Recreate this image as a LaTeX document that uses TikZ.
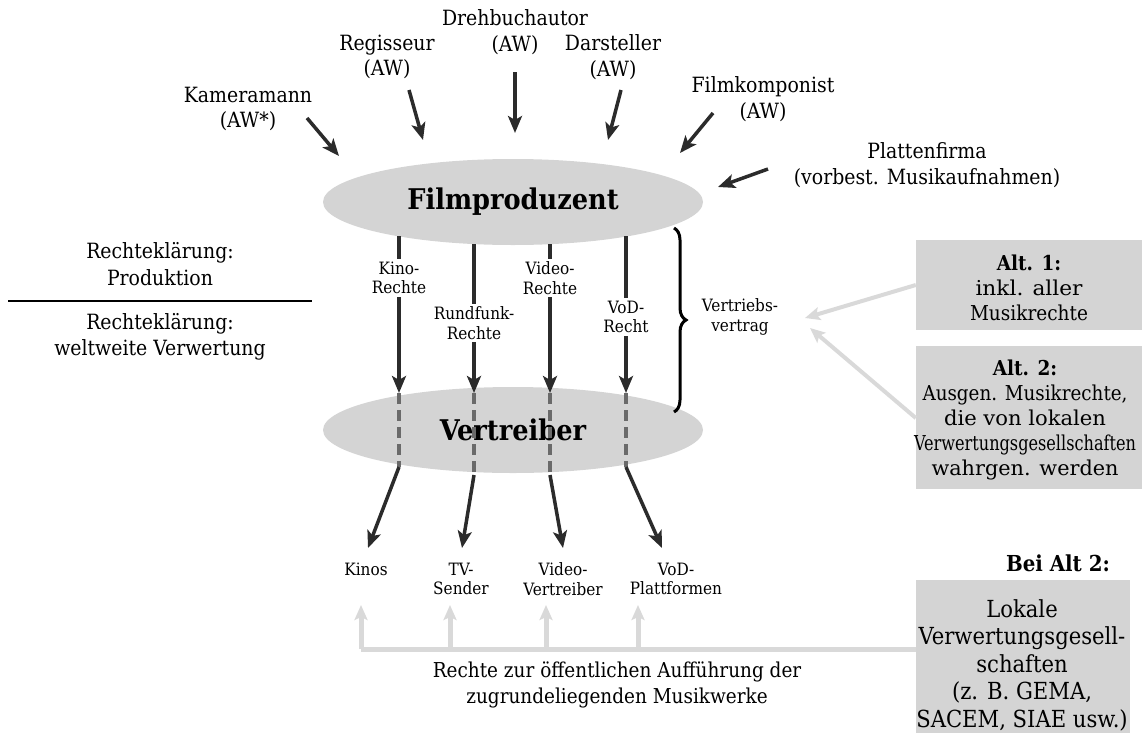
\documentclass[tikz,border=0pt]{standalone}
\usepackage{fontspec}
\setmainfont{DejaVu Serif Condensed}
\usetikzlibrary{shapes.geometric,arrows.meta,decorations.pathreplacing}
\definecolor{ell}{HTML}{D4D4D4}
\definecolor{dk}{HTML}{2B2B2B}
\definecolor{dsh}{HTML}{6A6A6A}
\definecolor{lg}{HTML}{D9D9D9}
\newcommand{\fitw}[2]{\resizebox{#1}{\height}{#2}}
\begin{document}
\begin{tikzpicture}[x=1pt,y=-1pt,
  lbl/.style={font=\fontsize{21}{25.5}\selectfont, align=center, inner sep=0pt},
  smalllbl/.style={font=\fontsize{17}{19.5}\selectfont, align=center, inner sep=2pt},
  whitelbl/.style={smalllbl, fill=white, inner sep=3pt},
  ellnode/.style={ellipse, fill=ell, minimum width=380pt, minimum height=86pt, inner sep=0pt, font=\fontsize{28.5}{30}\selectfont\bfseries},
  boxnode/.style={fill=ell, inner sep=0pt},
  boxtext/.style={font=\fontsize{20.5}{25}\selectfont, align=center, inner sep=0pt},
  darr/.style={draw=dk, line width=3.5pt, -{Stealth[length=17pt,width=14pt,inset=4pt]}},
  dline/.style={draw=dk, line width=3.5pt},
  dashline/.style={draw=dsh, line width=3.5pt, dash pattern=on 11pt off 6pt},
  garr/.style={draw=lg, line width=4pt, -{Stealth[length=15pt,width=13pt,inset=3pt]}},
  gline/.style={draw=lg, line width=5pt}
]
\useasboundingbox (0,0) rectangle (1142,742);

% ellipses
\node[ellnode] (fp) at (513,202) {Filmproduzent};
\node[ellnode] (vt) at (513,430) {Vertreiber};

% top labels
\node[lbl] (kam) at (248,109) {Kameramann\\(AW*)};
\node[lbl] (reg) at (387,57) {Regisseur\\(AW)};
\node[lbl] (dre) at (515,32) {Drehbuchautor\\(AW)};
\node[lbl] (dar) at (613,57) {Darsteller\\(AW)};
\node[lbl] (fko) at (763,99) {Filmkomponist\\(AW)};
\node[lbl] (pla) at (927,165) {Plattenfirma\\(vorbest. Musikaufnahmen)};

% top arrows
\coordinate (kamS) at (307,118); \coordinate (kamE) at (339,156);
\coordinate (regS) at (409,90);  \coordinate (regE) at (423,140);
\coordinate (dreS) at (515,72);  \coordinate (dreE) at (515,133);
\coordinate (darS) at (621,90);  \coordinate (darE) at (608,140);
\coordinate (fkoS) at (713,113); \coordinate (fkoE) at (680,153);
\coordinate (plaS) at (768,169); \coordinate (plaE) at (718,187);
\foreach \n in {kam,reg,dre,dar,fko,pla}{\draw[darr] (\n S) -- (\n E);}

% left labels
\node[lbl, font=\fontsize{21}{26.5}\selectfont] (lp) at (160,264) {Rechteklärung:\\Produktion};
\node[lbl, font=\fontsize{21}{26.5}\selectfont] (lw) at (160,337) {Rechteklärung:\\weltweite Verwertung};
\coordinate (sepL) at (8,301); \coordinate (sepR) at (312,301);
\draw[line width=1.2pt] (sepL) -- (sepR);

% rights arrows
\coordinate (k0) at (399,236); \coordinate (k1) at (399,393); \coordinate (k2) at (399,467);
\coordinate (r0) at (474,244); \coordinate (r1) at (474,393); \coordinate (r2) at (474,475);
\coordinate (v0) at (550,244); \coordinate (v1) at (550,393); \coordinate (v2) at (550,475);
\coordinate (o0) at (626,236); \coordinate (o1) at (626,393); \coordinate (o2) at (626,467);
\foreach \n in {k,r,v,o}{
  \draw[darr] (\n0) -- (\n1);
  \draw[dashline] (\n1) -- (\n2);
}
\node[whitelbl] (kr) at (399,278) {Kino-\\Rechte};
\node[whitelbl] (rr) at (474,323) {Rundfunk-\\Rechte};
\node[whitelbl] (vr) at (550,278) {Video-\\Rechte};
\node[whitelbl] (or) at (626,317) {VoD-\\Recht};

% outlets
\node[smalllbl] (kinos) at (366,569) {Kinos};
\node[smalllbl] (tv) at (461,579) {TV-\\Sender};
\node[smalllbl] (vid) at (563,579) {Video-\\Vertreiber};
\node[smalllbl] (vod) at (676,579) {VoD-\\Plattformen};
\coordinate (k3) at (368,548); \coordinate (r3) at (462,548);
\coordinate (v3) at (563,548); \coordinate (o3) at (662,548);
\foreach \n in {k,r,v,o}{\draw[darr] (\n2) -- (\n3);}

% brace and contract
\draw[line width=3pt, decorate, decoration={brace, amplitude=12pt}] (674,228) -- (674,412);
\node[smalllbl] (vv) at (740,317) {Vertriebs-\\vertrag};

% alternative boxes
\node[boxnode, minimum width=226pt, minimum height=90pt] (alt1) at (1029,285) {};
\node[boxtext] (alt1t) at (1029,288) {\textbf{Alt. 1:}\\\fitw{107pt}{inkl. aller}\\\fitw{118pt}{Musikrechte}};
\node[boxnode, minimum width=226pt, minimum height=143pt] (alt2) at (1029,417.5) {};
\node[boxtext] (alt2t) at (1025,420) {\textbf{Alt. 2:}\\\fitw{205pt}{Ausgen. Musikrechte,}\\\fitw{162pt}{die von lokalen}\\\fitw{222pt}{Verwertungsgesellschaften}\\\fitw{187pt}{wahrgen. werden}};
\coordinate (a1E) at (805,318); \coordinate (a2E) at (810,328);
\draw[garr] (alt1.west) -- (a1E);
\draw[garr] (alt2.west |- 0,418) -- (a2E);

% local societies
\node[font=\fontsize{22}{24}\selectfont\bfseries, inner sep=0pt] (bei) at (1058,563) {Bei Alt 2:};
\node[boxnode, minimum width=214pt, minimum height=153pt] (lok) at (1023,656.5) {};
\node[font=\fontsize{23.5}{27.5}\selectfont, align=center, inner sep=0pt] (lokt) at (1022,665) {Lokale\\Verwertungsgesell-\\schaften\\(z. B. GEMA,\\SACEM, SIAE usw.)};

% public performance rights
\coordinate (h1) at (361,649); \coordinate (h2) at (450,649);
\coordinate (h3) at (546,649); \coordinate (h4) at (638,649);
\coordinate (u1) at (361,605); \coordinate (u2) at (450,605);
\coordinate (u3) at (546,605); \coordinate (u4) at (638,605);
\draw[gline] (lok.west |- h1) -- (h1);
\draw[garr, line width=5pt] (h1) -- (u1);
\draw[garr, line width=5pt] (h2) -- (u2);
\draw[garr, line width=5pt] (h3) -- (u3);
\draw[garr, line width=5pt] (h4) -- (u4);
\node[lbl, font=\fontsize{20.5}{26}\selectfont] (pub) at (617,685) {Rechte zur öffentlichen Aufführung der\\zugrundeliegenden Musikwerke};
\end{tikzpicture}
\end{document}
